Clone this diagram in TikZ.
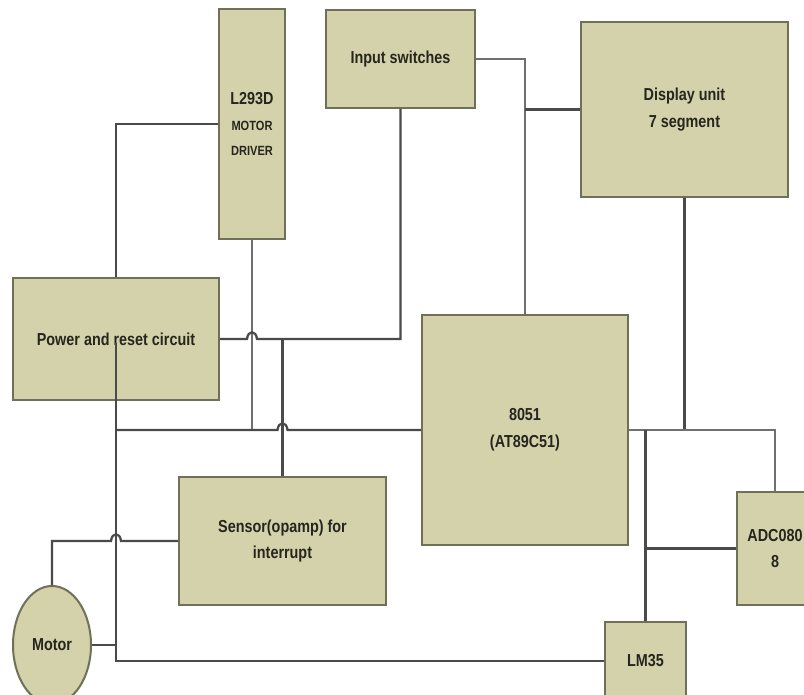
\documentclass[tikz,border=0pt]{standalone}
\usepackage{fontspec}
\setmainfont{Liberation Sans}[FakeStretch=0.83]
\usetikzlibrary{calc,shapes.geometric}
\definecolor{boxfill}{HTML}{D4D2AB}
\definecolor{boxedge}{HTML}{6E7058}
\definecolor{wirec}{HTML}{4A4A4A}
\definecolor{wirel}{HTML}{707070}
\definecolor{txt}{HTML}{26261E}
\begin{document}
\begin{tikzpicture}[x=0.75pt,y=-0.75pt,
  blk/.style={draw=boxedge, fill=boxfill, line width=1.5pt, inner sep=0pt, align=center, text=txt,
    font=\fontsize{13pt}{20pt}\selectfont\bfseries},
  sz/.style 2 args={minimum width=#1*0.75pt, minimum height=#2*0.75pt},
  wire/.style={draw=wirec, line width=1.7pt},
  wirelt/.style={draw=wirel, line width=1.3pt}]
\path[use as bounding box, clip] (0,0) rectangle (804,695);
\fill[white] (0,0) rectangle (804,695);

% blocks
\node[blk, sz={66}{230}, font=\fontsize{10pt}{19pt}\selectfont\bfseries] (L) at (252,124)
  {{\fontsize{13pt}{19pt}\selectfont L293D}\\MOTOR\\DRIVER};
\node[blk, sz={149}{98}] (I) at (400.5,59) {Input switches};
\node[blk, sz={207}{175}] (D) at (684.5,109.5) {Display unit\\7 segment};
\node[blk, sz={206}{122}] (P) at (116,339) {Power and reset circuit};
\node[blk, sz={206}{230}] (M) at (525,430) {8051\\(AT89C51)};
\node[blk, sz={207}{128}] (S) at (282.5,541) {Sensor(opamp) for\\interrupt};
\node[blk, sz={76}{113}] (A) at (775,548.5) {ADC080\\8};
\node[blk, sz={81}{78}] (LM) at (645.5,661) {LM35};
\node[blk, ellipse, sz={78}{118}] (Mo) at (52,645) {Motor};

% connectors
\draw[wire] (L.west) -| (P.north);
\draw[wirelt] (L.south) -- (L.south |- M.west);

\coordinate (h1) at (L.south |- P.east);
\draw[wire] (I.south) |- ($(h1)+(5,0)$) .. controls ($(h1)+(4,-9)$) and ($(h1)+(-4,-9)$) .. ($(h1)+(-5,0)$) -- (P.east);

\coordinate (h2) at (S.north |- M.west);
\draw[wire] (S.north |- P.east) -- (S.north);
\draw[wire] (P.center |- M.west) -- ($(h2)+(-5,0)$) .. controls ($(h2)+(-4,-9)$) and ($(h2)+(4,-9)$) .. ($(h2)+(5,0)$) -- (M.west);

\draw[wire] ($(P.center)+(0,4)$) -- (P.center |- LM.west) -- (LM.west);

\coordinate (h3) at (P.center |- S.west);
\draw[wire] (Mo.north) |- ($(h3)+(-5,0)$) .. controls ($(h3)+(-4,-9)$) and ($(h3)+(4,-9)$) .. ($(h3)+(5,0)$) -- (S.west);
\draw[wire] (Mo.east) -- (P.center |- Mo.east);

\draw[wirelt] (I.east) -| (M.north);
\draw[wire] (D.west) -- (D.west -| M.north);
\draw[wire] (D.south) |- (M.east);
\draw[wirelt] (M.east) -| (A.north);
\draw[wire] (LM.north) -- (LM.north |- M.east);
\draw[wire] (A.west) -- (A.west -| LM.north);
\end{tikzpicture}
\end{document}
